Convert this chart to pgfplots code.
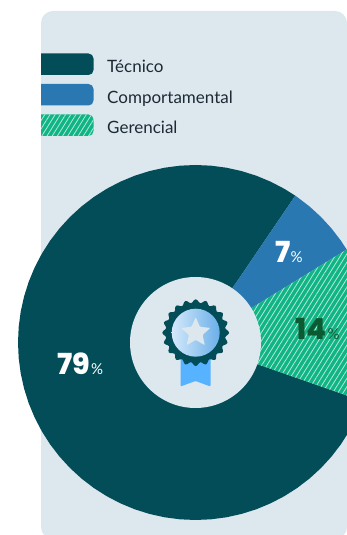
\documentclass[border=0pt]{standalone}
\usepackage{pgfplots}
\pgfplotsset{compat=1.18}
\usepackage{fontspec}
\setmainfont{Lato}
\newfontfamily\numfont{Poppins ExtraBold}
\usetikzlibrary{patterns.meta,shadings,calc}
\definecolor{tealc}{HTML}{024D58}
\definecolor{bluec}{HTML}{2A78B2}
\definecolor{greenc}{HTML}{10B586}
\definecolor{hatchc}{HTML}{B5E8D8}
\definecolor{cardc}{HTML}{DDE7EE}
\definecolor{textc}{HTML}{1D2A33}
\definecolor{darkg}{HTML}{0C5A32}
\begin{document}
\begin{tikzpicture}[x=1pt,y=1pt]
\begin{axis}[
  scale only axis, width=347pt, height=535pt,
  xmin=-195.5, xmax=151.5, ymin=-192.5, ymax=342.5,
  axis lines=none, clip=true,
]
% card
\fill[cardc, rounded corners=12pt] (axis cs:-154.5,331.5) rectangle (axis cs:151.5,-196.5);
% legend swatches
\begin{scope}
\clip (axis cs:-154.5,331.5) rectangle (axis cs:151.5,-200);
\fill[tealc, rounded corners=5pt] (axis cs:-180,289) rectangle (axis cs:-102,267.5);
\fill[bluec, rounded corners=5pt] (axis cs:-180,258.5) rectangle (axis cs:-102,237);
\fill[greenc, rounded corners=5pt] (axis cs:-180,228) rectangle (axis cs:-102,206.5);
\path[pattern={Lines[angle=58,distance=4.4pt,line width=0.8pt]},pattern color=hatchc, rounded corners=5pt] (axis cs:-180,228) rectangle (axis cs:-102,206.5);
\end{scope}
\node[anchor=base west,inner sep=0,text=textc,font=\fontsize{17}{20}\selectfont] at (axis cs:-88.5,270.3) {Técnico};
\node[anchor=base west,inner sep=0,text=textc,font=\fontsize{17}{20}\selectfont] at (axis cs:-88.5,239.3) {Comportamental};
\node[anchor=base west,inner sep=0,text=textc,font=\fontsize{17}{20}\selectfont] at (axis cs:-88.5,209.3) {Gerencial};
% Tecnico 79%
\addplot[fill=tealc,draw=none,data cs=polar] coordinates {
 (0,0) (55.8,177.5) (60,177.5) (65,177.5) (70,177.5) (75,177.5) (80,177.5) (85,177.5) (90,177.5)
 (95,177.5) (100,177.5) (105,177.5) (110,177.5) (115,177.5) (120,177.5) (125,177.5) (130,177.5)
 (135,177.5) (140,177.5) (145,177.5) (150,177.5) (155,177.5) (160,177.5) (165,177.5) (170,177.5)
 (175,177.5) (180,177.5) (185,177.5) (190,177.5) (195,177.5) (200,177.5) (205,177.5) (210,177.5)
 (215,177.5) (220,177.5) (225,177.5) (230,177.5) (235,177.5) (240,177.5) (245,177.5) (250,177.5)
 (255,177.5) (260,177.5) (265,177.5) (270,177.5) (275,177.5) (280,177.5) (285,177.5) (290,177.5)
 (295,177.5) (300,177.5) (305,177.5) (310,177.5) (315,177.5) (320,177.5) (325,177.5) (330,177.5)
 (335,177.5) (340,177.5) (340.7,177.5) (0,0)} \closedcycle;
% Comportamental 7%
\addplot[fill=bluec,draw=none,data cs=polar] coordinates {
 (0,0) (31.6,177.5) (35,177.5) (40,177.5) (45,177.5) (50,177.5) (55,177.5) (55.8,177.5) (0,0)} \closedcycle;
% Gerencial 14%
\addplot[fill=greenc,draw=none,data cs=polar] coordinates {
 (0,0) (-19.3,177.5) (-15,177.5) (-10,177.5) (-5,177.5) (0,177.5) (5,177.5) (10,177.5) (15,177.5)
 (20,177.5) (25,177.5) (30,177.5) (31.6,177.5) (0,0)} \closedcycle;
\addplot[draw=none,pattern={Lines[angle=58,distance=4.4pt,line width=0.8pt]},pattern color=hatchc,data cs=polar] coordinates {
 (0,0) (-19.3,177.5) (-15,177.5) (-10,177.5) (-5,177.5) (0,177.5) (5,177.5) (10,177.5) (15,177.5)
 (20,177.5) (25,177.5) (30,177.5) (31.6,177.5) (0,0)} \closedcycle;
% centre
\fill[cardc] (axis cs:0,0) circle[radius=65.5pt];
% ribbon
\fill[fill={rgb,255:red,87;green,179;blue,255},rounded corners=1pt] (axis cs:-15,-5) -- (axis cs:15,-5) -- (axis cs:15,-44) -- (axis cs:0,-38.5) -- (axis cs:-15,-44) -- cycle;
% labels
\node[anchor=base west,inner sep=0,text=white,font=\numfont\fontsize{29}{32}\selectfont] at (axis cs:-138.5,-32.5) {79};
\node[anchor=base west,inner sep=0,text=white,font=\fontsize{15}{17}\selectfont] at (axis cs:-104.5,-32.5) {\%};
\node[anchor=base west,inner sep=0,text=white,font=\numfont\fontsize{29}{32}\selectfont] at (axis cs:79.5,79.5) {7};
\node[anchor=base west,inner sep=0,text=white,font=\fontsize{15}{17}\selectfont] at (axis cs:95,79.5) {\%};
\node[anchor=base west,inner sep=0,text=darkg,font=\numfont\fontsize{29}{32}\selectfont] at (axis cs:100,2.5) {14};
\node[anchor=base west,inner sep=0,text=darkg,font=\fontsize{15}{17}\selectfont] at (axis cs:132,2.5) {\%};
\end{axis}
\path (current axis.south west) rectangle (current axis.north east);
% rosette
\begin{scope}[shift={($(current axis.south west)+(195.7,202.3)$)}]
\fill[tealc] plot[smooth cycle,samples=120,domain=0:357,variable=\t] ({(31.6+1.8*cos(20*\t))*cos(\t)},{(31.6+1.8*cos(20*\t))*sin(\t)});
\shade[left color={rgb,255:red,212;green,233;blue,251},right color={rgb,255:red,106;green,175;blue,232}] (0,0) circle[radius=24];
\fill[cardc,rounded corners=1pt] (90:15.5) -- (126:7.2) -- (162:15.5) -- (198:7.2) -- (234:15.5) -- (270:7.2) -- (306:15.5) -- (342:7.2) -- (18:15.5) -- (54:7.2) -- cycle;
\end{scope}
\end{tikzpicture}
\end{document}
